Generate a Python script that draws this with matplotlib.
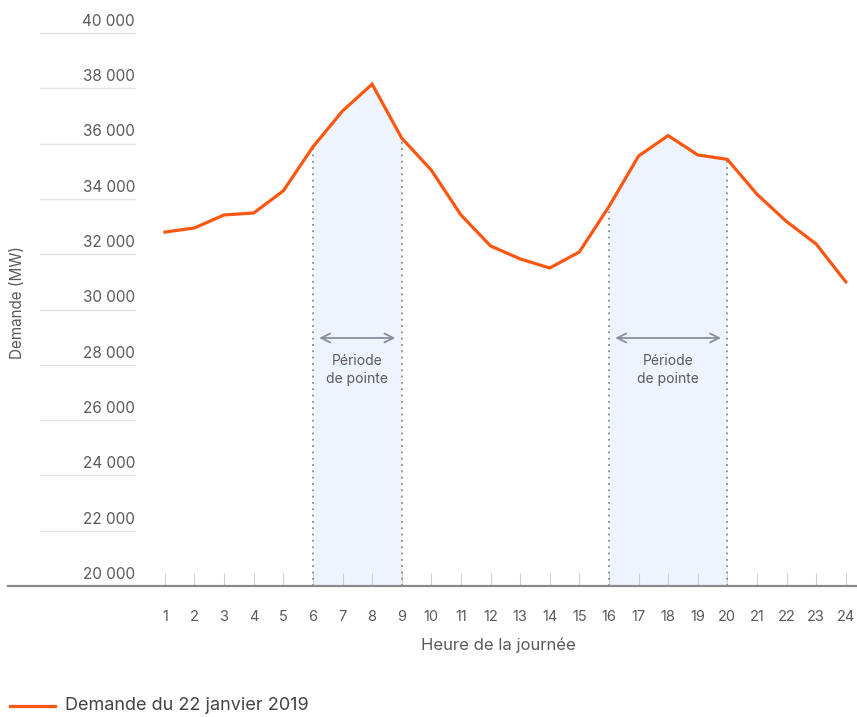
import numpy as np
import matplotlib.pyplot as plt
from matplotlib.lines import Line2D

plt.rcParams['font.family'] = ['Inter', 'DejaVu Sans']

# Demande horaire (MW), 22 janvier 2019
heures = list(range(1, 25))
demande = [32800, 32950, 33420, 33490, 34290, 35880, 37180, 38150,
           36200, 35040, 33420, 32300, 31830, 31500, 32080, 33720,
           35550, 36290, 35590, 35430, 34170, 33180, 32370, 31000]

y_ticks = [20000, 22000, 24000, 26000, 28000, 30000, 32000, 34000,
           36000, 38000, 40000]
periodes = [(6, 9), (16, 20)]

orange = '#fc5710'
gris_txt = '#5a5a5a'

W, H = 857, 717
fig = plt.figure(figsize=(W / 100, H / 100), dpi=100)

# axes placed so hour 1 sits at x=165 px and 20 000 at y=586 px
px_2k = 55.3
x0, x1 = -4.3, 24.38
ax_left, ax_right = 8, 857
ax_bottom, ax_top = 586, 20
y_top = 20000 + (ax_bottom - ax_top) / px_2k * 2000
ax = fig.add_axes([ax_left / W, 1 - ax_bottom / H,
                   (ax_right - ax_left) / W, (ax_bottom - ax_top) / H])
ax.set_xlim(x0, x1)
ax.set_ylim(20000, y_top)

h = np.array(heures)
d = np.array(demande)

# shaded peak periods + dotted limits
for a, b in periodes:
    m = (h >= a) & (h <= b)
    ax.fill_between(h[m], 20000, d[m], color='#eef4fd', lw=0, zorder=1)
    for xv in (a, b):
        ax.plot([xv, xv], [20000, d[h == xv][0]], ls=(0, (1, 2.5)),
                color='#8c8c8c', lw=1.3, zorder=2)
    ax.annotate('', xy=(a + 0.12, 28970), xytext=(b - 0.12, 28970),
                arrowprops=dict(arrowstyle='<->', color='#8a8e9e', lw=1.3,
                                mutation_scale=16), zorder=3)
    ax.text((a + b) / 2, 28400, 'Période\nde pointe', ha='center', va='top',
            fontsize=10, color=gris_txt, linespacing=1.4, zorder=3)

ax.plot(h, d, color=orange, lw=2.3, zorder=4, solid_joinstyle='miter')

# short gridlines with labels above them (left of the chart)
gx0 = (40 - ax_left) / (ax_right - ax_left)
gx1 = (135 - ax_left) / (ax_right - ax_left)
for v in y_ticks[1:]:
    ax.plot([gx0, gx1], [v, v], transform=ax.get_yaxis_transform(),
            color='#e3e3e3', lw=1, clip_on=False)
for v in y_ticks:
    ax.annotate(f'{v:,}'.replace(',', ' '), xy=(gx1, v),
                xycoords=ax.get_yaxis_transform(), xytext=(0, 3),
                textcoords='offset points', ha='right', va='bottom',
                fontsize=11, color=gris_txt)

ax.set_yticks([])
ax.set_xticks(heures)
ax.set_xticklabels([str(x) for x in heures])
ax.tick_params(axis='x', direction='in', length=9.5, width=0.8,
               color='#cfcfcf', labelsize=10.5, labelcolor=gris_txt, pad=17)
for s in ['top', 'right', 'left']:
    ax.spines[s].set_visible(False)
ax.spines['bottom'].set_color('#8a8a8a')
ax.spines['bottom'].set_linewidth(1.6)

fig.text(18 / W, 1 - 303 / H, 'Demande (MW)', rotation=90, ha='center',
         va='center', fontsize=11, color=gris_txt)
fig.text(498 / W, 1 - 645 / H, 'Heure de la journée', ha='center',
         va='center', fontsize=12, color=gris_txt)

# legend drawn by hand at bottom left
fig.add_artist(Line2D([10 / W, 55 / W], [1 - 706 / H, 1 - 706 / H],
                      color=orange, lw=2.3))
fig.text(65 / W, 1 - 706 / H, 'Demande du 22 janvier 2019', ha='left',
         va='center', fontsize=13, color='#444444')

fig.savefig('out.png', dpi=100)
